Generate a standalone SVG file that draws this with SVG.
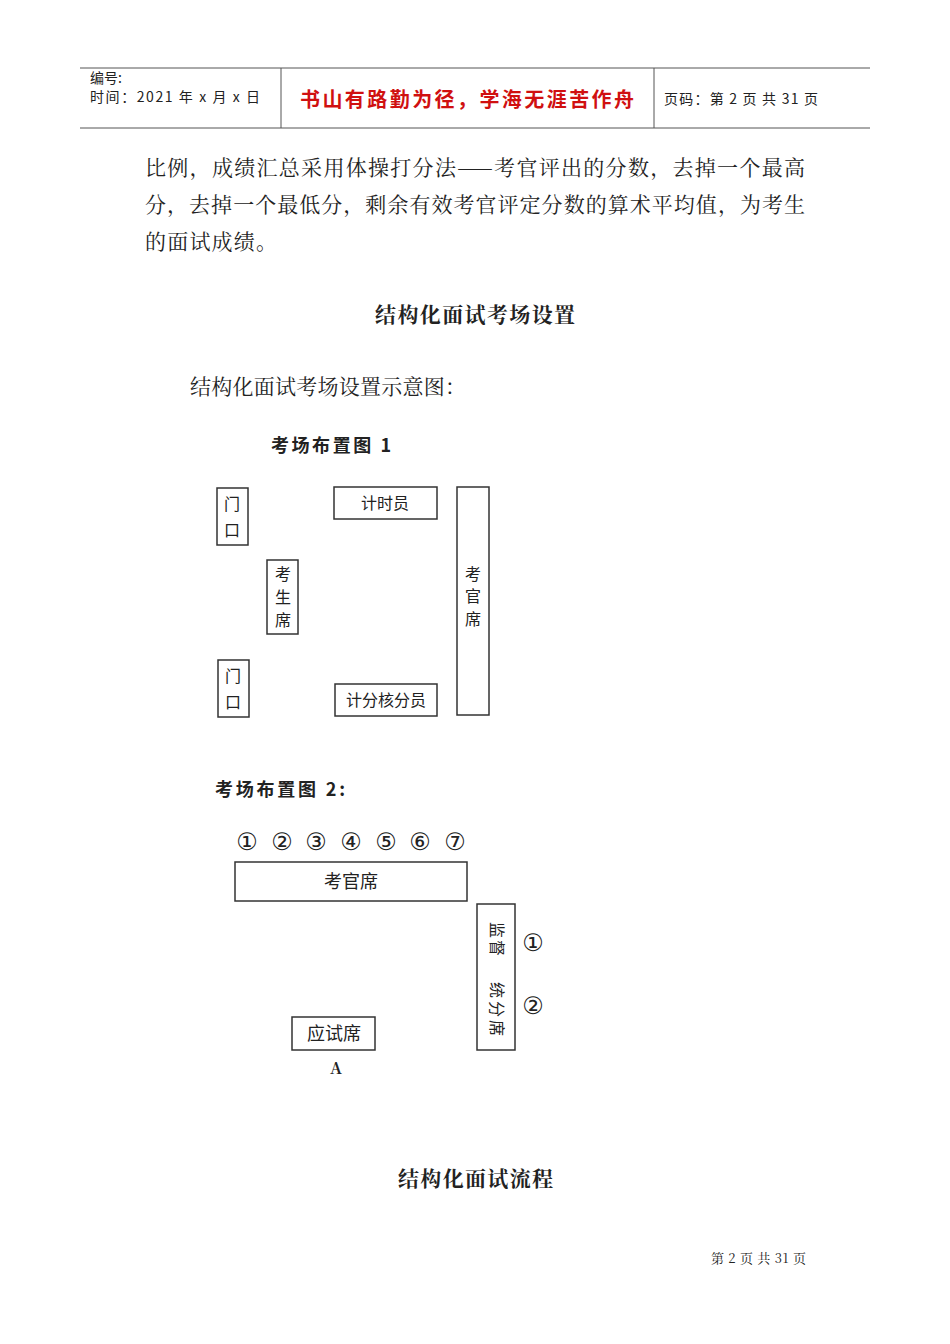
<svg xmlns="http://www.w3.org/2000/svg" width="950" height="1344" viewBox="0 0 950 1344">
<style>
.s{font-family:"Noto Sans CJK SC","Liberation Sans",sans-serif;fill:#222}
.r{font-family:"Noto Serif CJK SC","Noto Sans CJK SC",serif;fill:#222}
.b{fill:none;stroke:#333;stroke-width:1.5}
.c{font-family:"DejaVu Sans",sans-serif;fill:#222;font-size:24px;text-anchor:middle}
</style>
<rect width="950" height="1344" fill="#fff"/>
<g id="header">
<line x1="80" y1="68" x2="870" y2="68" stroke="#555"/>
<line x1="80" y1="128" x2="870" y2="128" stroke="#555"/>
<line x1="281" y1="68" x2="281" y2="128" stroke="#555"/>
<line x1="654" y1="68" x2="654" y2="128" stroke="#555"/>
<text class="s" x="90" y="83" font-size="14">编号:</text>
<text class="s" x="90" y="102" font-size="14" textLength="170">时间：2021 年 x 月 x 日</text>
<text class="s" x="300" y="107" font-size="20" textLength="334" style="fill:#d01010;font-weight:bold">书山有路勤为径，学海无涯苦作舟</text>
<text class="s" x="664" y="104" font-size="14" textLength="154">页码：第 2 页 共 31 页</text>
</g>
<g id="body" class="r" font-size="21">
<text class="r" x="145" y="175" textLength="660">比例，成绩汇总采用体操打分法——考官评出的分数，去掉一个最高</text>
<text class="r" x="145" y="212" textLength="660">分，去掉一个最低分，剩余有效考官评定分数的算术平均值，为考生</text>
<text class="r" x="145" y="249" textLength="132">的面试成绩。</text>
<text class="r" x="375" y="322" textLength="200" font-weight="bold">结构化面试考场设置</text>
<text class="r" x="190" y="394" textLength="276">结构化面试考场设置示意图：</text>
<text class="r" x="398" y="1186" textLength="155" font-weight="bold">结构化面试流程</text>
<text class="r" x="711" y="1263" font-size="13" textLength="95">第 2 页 共 31 页</text>
</g>
<g id="fig1">
<text class="s" x="271" y="452" font-size="18" font-weight="bold" textLength="120">考场布置图 1</text>
<g id="door1"><rect class="b" x="217" y="488" width="31" height="57"/><text class="s" x="232" y="510" font-size="16" text-anchor="middle">门</text><text class="s" x="232" y="536" font-size="16" text-anchor="middle">口</text></g>
<g id="door2"><rect class="b" x="218" y="660" width="31" height="57"/><text class="s" x="233" y="682" font-size="16" text-anchor="middle">门</text><text class="s" x="233" y="708" font-size="16" text-anchor="middle">口</text></g>
<g id="student"><rect class="b" x="267" y="560" width="31" height="74"/><text class="s" x="283" y="580" font-size="16" text-anchor="middle">考</text><text class="s" x="283" y="603" font-size="16" text-anchor="middle">生</text><text class="s" x="283" y="626" font-size="16" text-anchor="middle">席</text></g>
<g id="timer"><rect class="b" x="334" y="487" width="103" height="32"/><text class="s" x="385" y="509" font-size="16" text-anchor="middle">计时员</text></g>
<g id="scorer"><rect class="b" x="335" y="684" width="102" height="32"/><text class="s" x="386" y="706" font-size="16" text-anchor="middle">计分核分员</text></g>
<g id="examiner1"><rect class="b" x="457" y="487" width="32" height="228"/><text class="s" x="473" y="580" font-size="16" text-anchor="middle">考</text><text class="s" x="473" y="602" font-size="16" text-anchor="middle">官</text><text class="s" x="473" y="625" font-size="16" text-anchor="middle">席</text></g>
</g>
<g id="fig2">
<text class="s" x="215" y="796" font-size="18" font-weight="bold" textLength="130">考场布置图 2:</text>
<text class="c" x="247" y="850">①</text><text class="c" x="282" y="850">②</text><text class="c" x="316" y="850">③</text><text class="c" x="351" y="850">④</text><text class="c" x="386" y="850">⑤</text><text class="c" x="420" y="850">⑥</text><text class="c" x="455" y="850">⑦</text>
<g id="examiner2"><rect class="b" x="235" y="862" width="232" height="39"/><text class="s" x="351" y="888" font-size="18" text-anchor="middle">考官席</text></g>
<g id="supervise"><rect class="b" x="477" y="904" width="38" height="146"/>
<g class="s" font-size="16" text-anchor="middle">
<text transform="translate(496 930) rotate(90)" y="5">监</text>
<text transform="translate(496 948) rotate(90)" y="5">督</text>
<text transform="translate(496 990) rotate(90)" y="5">统</text>
<text transform="translate(496 1009) rotate(90)" y="5">分</text>
<text transform="translate(496 1028) rotate(90)" y="5">席</text>
</g></g>
<text class="c" x="533" y="951">①</text>
<text class="c" x="533" y="1014">②</text>
<g id="candidate"><rect class="b" x="292" y="1017" width="83" height="33"/><text class="s" x="334" y="1040" font-size="18" text-anchor="middle">应试席</text></g>
<text class="r" x="336" y="1074" font-size="16" text-anchor="middle" font-weight="bold">A</text>
</g>
</svg>
